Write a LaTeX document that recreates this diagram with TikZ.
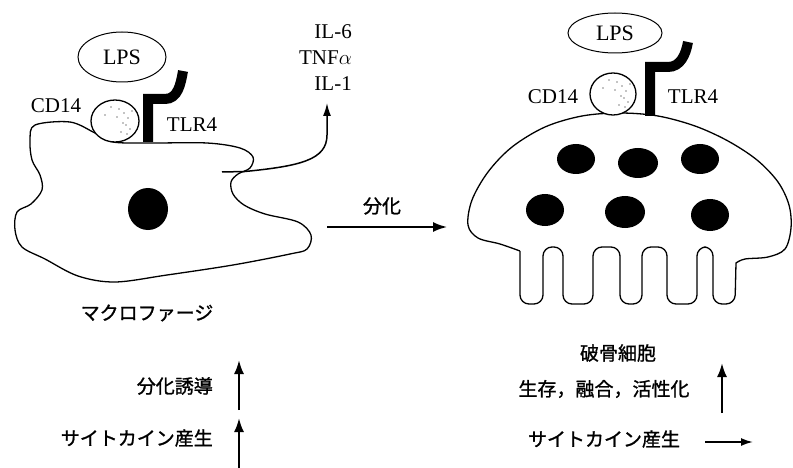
\documentclass[tikz,border=0pt]{standalone}
\usepackage{fontspec}
\setmainfont{Liberation Serif}
\newfontfamily\jp[FakeBold=1.2]{Noto Sans CJK JP}
\usetikzlibrary{positioning,arrows.meta,shapes.geometric}

\begin{document}
\begin{tikzpicture}[
    x=1pt, y=-1pt,
    membrane/.style={line width=1.3pt, line join=round},
    receptor/.style={line width=10pt},
    nucleus/.style={fill=black},
    tag/.style={font=\fontsize{21}{26}\selectfont, inner sep=0pt},
    jtag/.style={font=\jp\fontsize{19}{22}\selectfont, inner sep=0pt},
    lps/.style={ellipse, draw, line width=1pt, inner sep=0pt, font=\fontsize{22}{24}\selectfont},
    cd/.style={ellipse, draw, line width=1.3pt, fill=white, inner sep=0pt},
    arr/.style={-{Latex[length=14pt,width=10pt]}, line width=2.2pt},
    thinarr/.style={-{Latex[length=13pt,width=8pt]}, line width=1.5pt}
]
    \useasboundingbox (0,0) rectangle (793,468);

    % Macrophage
    \draw[membrane] plot[smooth cycle, tension=0.55] coordinates {
        (35,125) (70,122) (95,133) (113,142) (150,143) (207,143) (240,148)
        (253,157) (250,168) (238,174) (231,182) (233,194) (244,205) (265,214)
        (298,222) (311,235) (307,249) (290,254) (233,265) (167,275) (115,282)
        (78,276) (45,259) (22,247) (15,230) (17,212) (31,204) (42,190)
        (40,175) (32,160) (30,140)};
    \fill[nucleus] (148,209) ellipse [x radius=20, y radius=21];

    \node[cd, minimum width=48pt, minimum height=42pt] (cdL) at (115,121) {};
    \draw[receptor] (148,142) -- (148,99) -- (165,99) to[out=0, in=-100] (183,71);
    \node[lps, minimum width=88pt, minimum height=50pt] (lpsL) at (122,57) {LPS};
    \node[tag] (cdtL) at (56,106) {CD14};
    \node[tag] (tlrL) at (192,125) {TLR4};
    \node[jtag] (macro) at (147,313) {マクロファージ};

    % Cytokines released
    \node[tag, align=right, anchor=north east] (cyto) at (352,24) {IL-6\\TNF$\alpha$\\IL-1};
    \coordinate (cytS) at (222,172);
    \coordinate (cytT) at (327,103);
    \draw[thinarr] (cytS) -- (245,171.5) .. controls (300,166) and (327,160) .. (327,135) -- (cytT);

    % Differentiation
    \coordinate (difS) at (327,227);
    \coordinate (difT) at (447,227);
    \draw[arr, line width=1.8pt] (difS) -- (difT);
    \node[jtag] (dif) at (382,206) {分化};

    % Osteoclast
    \draw[membrane] plot[smooth, tension=0.55] coordinates {
        (520,251) (500,244) (478,238) (468,225) (472,200) (488,172) (512,147)
        (545,127) (582,116) (620,113) (658,116) (695,126) (728,141) (757,160)
        (778,182) (789,205) (791,228) (785,249) (768,257) (745,259) (736,263)}
        [rounded corners=9pt]
        -- (735,304) -- (713,304) -- (713,247) -- (697,247) -- (697,304)
        -- (667,304) -- (667,247) -- (642,247) -- (642,304) -- (620,304)
        -- (620,247) -- (593,247) -- (593,304) -- (563,304) -- (563,247)
        -- (543,247) -- (543,304) -- (520,304) -- (520,251);
    \foreach \x/\y/\rx/\ry in {576/159/19/15, 638/163/20/15, 700/159/19/15,
                                545/210/19/16, 625/212/20/16, 710/215/19/16}
        \fill[nucleus] (\x,\y) ellipse [x radius=\rx, y radius=\ry];

    \node[cd, minimum width=46pt, minimum height=42pt] (cdR) at (613,94) {};
    \draw[receptor] (650,116) -- (650,67) -- (668,67) to[out=0, in=-100] (688,42);
    \node[lps, minimum width=94pt, minimum height=40pt] (lpsR) at (615,33) {LPS};
    \node[tag] (cdtR) at (553,97) {CD14};
    \node[tag] (tlrR) at (693,97) {TLR4};
    \node[jtag] (osteo) at (618,353) {破骨細胞};

    % speckles on CD14
    \foreach \c in {cdL,cdR}
        \foreach \dx/\dy in {4/-12, 9/-8, 13/-3, 11/4, 6/11, 15/8, -4/-14, 2/-4, 8/2, -10/-6, 17/-10, 12/13}
            \fill[shift={(\c.center)}] (\dx,\dy) circle (0.7pt);

    % Effects
    \node[jtag, anchor=east] (ind) at (213,386) {分化誘導};
    \node[jtag, anchor=east] (prodL) at (213,438) {サイトカイン産生};
    \coordinate (upA) at (239,410);
    \coordinate (upAt) at (239,360);
    \coordinate (upB) at (239,468);
    \coordinate (upBt) at (239,418);
    \draw[arr] (upA) -- (upAt);
    \draw[arr] (upB) -- (upBt);

    \node[jtag] (surv) at (604,389) {生存，融合，活性化};
    \node[jtag] (prodR) at (604,439) {サイトカイン産生};
    \coordinate (upC) at (722,413);
    \coordinate (upCt) at (722,363);
    \coordinate (hzS) at (705,442);
    \coordinate (hzT) at (753,442);
    \draw[arr] (upC) -- (upCt);
    \draw[arr, -{Latex[length=12pt,width=8pt]}, line width=1.8pt] (hzS) -- (hzT);
\end{tikzpicture}
\end{document}
